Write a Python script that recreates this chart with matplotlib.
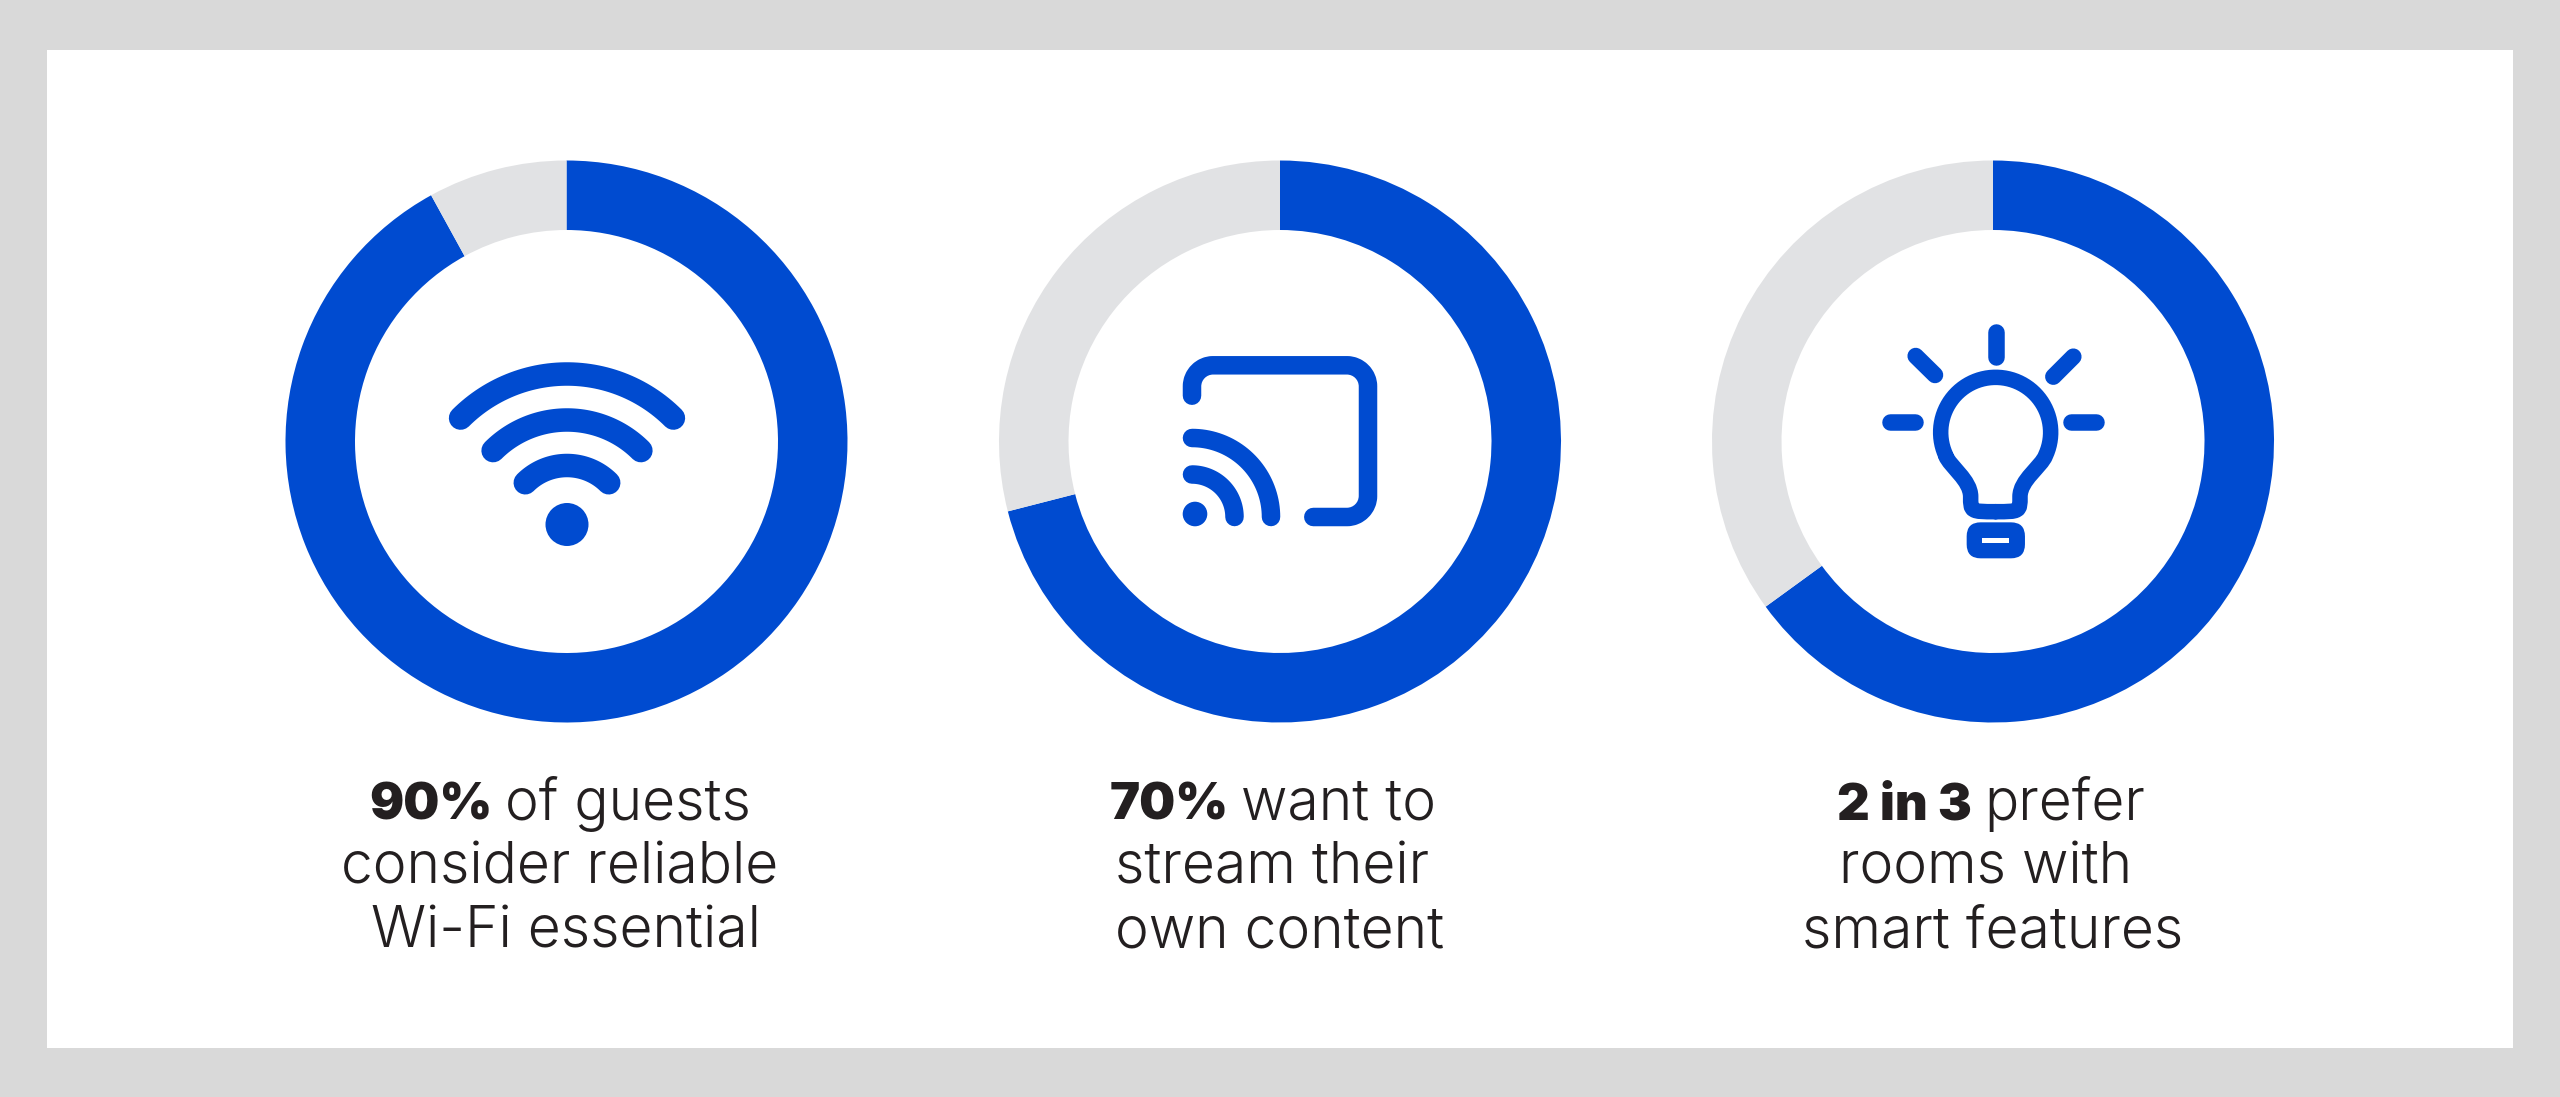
import numpy as np
import matplotlib
matplotlib.use('Agg')
import matplotlib.pyplot as plt
from matplotlib.path import Path
from matplotlib.patches import PathPatch, FancyBboxPatch, Rectangle, Circle

# share of blue in each ring
ring_values = [92, 71, 65]
ring_centers = [566.5, 1280, 1993]
bold_parts = ['90%', '70%', '2 in 3']
first_lines = ['of guests', 'want to', 'prefer']
second_lines = ['consider reliable', 'stream their', 'rooms with']
third_lines = ['Wi-Fi essential', 'own content', 'smart features']

BLUE = '#004bd0'
GREY = '#e1e2e4'
TEXT = '#231f20'
W, H = 2560, 1097

plt.rcParams['font.family'] = ['Inter', 'DejaVu Sans']

fig = plt.figure(figsize=(W / 100, H / 100), dpi=100, facecolor='#d9d9d9')

# white panel in image pixels
ax = fig.add_axes([0, 0, 1, 1])
ax.set_xlim(0, W)
ax.set_ylim(H, 0)
ax.axis('off')
ax.add_patch(Rectangle((47, 49.5), 2466, 998.5, fc='white', ec='none'))

# rings
R_OUT = 281
R_IN = 211.5
for v, cx in zip(ring_values, ring_centers):
    a = fig.add_axes([(cx - R_OUT) / W, 1 - (441.5 + R_OUT) / H, 2 * R_OUT / W, 2 * R_OUT / H])
    a.pie([v, 100 - v], colors=[BLUE, GREY], startangle=90, counterclock=False, radius=1,
          wedgeprops=dict(width=1 - R_IN / R_OUT, linewidth=0))
    a.set_xlim(-1, 1)
    a.set_ylim(-1, 1)
    a.set_zorder(1)

# icons and captions live in their own transparent axes above the rings
ic = fig.add_axes([0, 0, 1, 1])
ic.set_xlim(0, W)
ic.set_ylim(H, 0)
ic.axis('off')
ic.patch.set_alpha(0)
ic.set_zorder(2)


def stroke(xs, ys, w):
    ic.plot(xs, ys, color=BLUE, lw=w * 0.72, solid_capstyle='round', solid_joinstyle='round')


# wifi
wx, wy = 567, 524.5
for r in [150.5, 104.5, 59]:
    t = np.radians(np.linspace(-45, 45, 60))
    stroke(wx + r * np.sin(t), wy - r * np.cos(t), 23.5)
ic.add_patch(Circle((wx, wy), 21.5, fc=BLUE, ec='none'))

# cast
L, T, Rt, B, c = 1192, 365.3, 1368, 517, 21
frame = Path([(L, 395.7), (L, T + c), (L, T + c * 0.45), (L + c * 0.45, T), (L + c, T),
              (Rt - c, T), (Rt - c * 0.45, T), (Rt, T + c * 0.45), (Rt, T + c),
              (Rt, B - c), (Rt, B - c * 0.45), (Rt - c * 0.45, B), (Rt - c, B), (1313.3, B)],
             [Path.MOVETO, Path.LINETO, Path.CURVE4, Path.CURVE4, Path.CURVE4,
              Path.LINETO, Path.CURVE4, Path.CURVE4, Path.CURVE4,
              Path.LINETO, Path.CURVE4, Path.CURVE4, Path.CURVE4, Path.LINETO])
ic.add_patch(PathPatch(frame, fc='none', ec=BLUE, lw=18.5 * 0.72, capstyle='round', joinstyle='round'))
for r in [79, 42.5]:
    t = np.radians(np.linspace(0, 90, 40))
    stroke(L + r * np.sin(t), B - r * np.cos(t), 18.5)
ic.add_patch(Circle((1195, 514), 12.3, fc=BLUE, ec='none'))


# bulb, traced in zoom-crop coordinates
def bz(x, y):
    return 1850 + x / 3, 310 + y / 3


t = np.radians(np.linspace(-25, 205, 60))
bulb_verts = [bz(437, 605), bz(362, 605), bz(362, 605), bz(362, 560),
              bz(362, 510), bz(300, 470), bz(287, 437)]
codes = [Path.MOVETO, Path.CURVE4, Path.CURVE4, Path.CURVE4, Path.CURVE4, Path.CURVE4, Path.CURVE4]
for a in t[::-1]:
    bulb_verts.append(bz(437 + 165 * np.cos(a), 367 - 165 * np.sin(a)))
    codes.append(Path.LINETO)
bulb_verts += [bz(574, 470), bz(510, 510), bz(510, 560), bz(510, 605), bz(510, 605), bz(437, 605)]
codes += [Path.CURVE4] * 6
ic.add_patch(PathPatch(Path(bulb_verts, codes), fc='none', ec=BLUE, lw=15.5 * 0.72, joinstyle='round', capstyle='round'))

for (x0, y0, x1, y1) in [(437, 65, 437, 142), (120, 337, 195, 337), (662, 337, 738, 337),
                         (197, 138, 255, 195), (670, 140, 610, 200)]:
    a0, b0 = bz(x0, y0)
    a1, b1 = bz(x1, y1)
    stroke([a0, a1], [b0, b1], 16.5)

bx, by = bz(350, 637)
ic.add_patch(FancyBboxPatch((bx + 14, by + 14), 58.3 - 28, 36 - 28, boxstyle='round,pad=14,rounding_size=14',
                            fc=BLUE, ec='none'))
sx, sy = bz(397, 683)
ic.add_patch(Rectangle((sx, sy), 27, 5, fc='white', ec='none'))

# captions
FS = 41
FS_BOLD = 36.5
GAP = 12
line_y = [819.5, 883.5, 947.5]
line_cx = [[560, 560, 565.5], [1272.5, 1272.5, 1280], [1991, 1986, 1992.5]]
renderer = fig.canvas.get_renderer()
for i in range(3):
    b = ic.text(0, line_y[0], bold_parts[i], fontsize=FS_BOLD, fontweight=900, color=TEXT, va='baseline')
    r = ic.text(0, line_y[0], first_lines[i], fontsize=FS, fontweight=300, color=TEXT, va='baseline')
    wb = b.get_window_extent(renderer).width
    wr = r.get_window_extent(renderer).width
    start = line_cx[i][0] - (wb + GAP + wr) / 2
    b.set_x(start)
    r.set_x(start + wb + GAP)
    ic.text(line_cx[i][1], line_y[1], second_lines[i], fontsize=FS, fontweight=300, color=TEXT, ha='center', va='baseline')
    ic.text(line_cx[i][2], line_y[2], third_lines[i], fontsize=FS, fontweight=300, color=TEXT, ha='center', va='baseline')

fig.savefig('out.png', dpi=100, facecolor=fig.get_facecolor())
